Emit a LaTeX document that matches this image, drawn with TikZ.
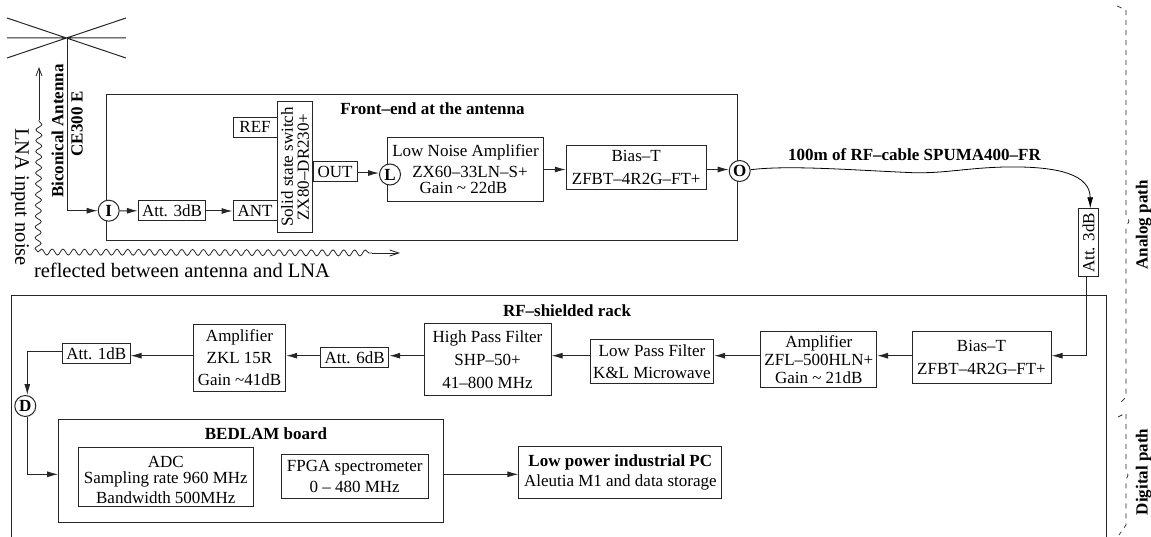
\documentclass[tikz,border=0pt]{standalone}
\usepackage{fontspec}
\setmainfont{Liberation Serif}
\usetikzlibrary{arrows.meta,decorations.pathmorphing,decorations.pathreplacing}
\tikzset{
 x=1pt,y=-1pt,
 lin/.style={draw=black!85,line width=1pt},
 flow/.style={lin,-{Latex[length=11pt,width=6pt]}},
 box/.style={lin,fill=white,inner sep=0pt,align=center,font=\fontsize{17}{16}\selectfont},
 tap/.style={lin,fill=white,circle,inner sep=0pt,minimum size=21pt,font=\fontsize{17}{16}\selectfont\bfseries},
 lab/.style={inner sep=0pt,align=center,font=\fontsize{17}{16}\selectfont\bfseries},
 big/.style={inner sep=0pt,font=\fontsize{20.5}{19}\selectfont},
 wav/.style={lin,line width=0.8pt,decorate,decoration={snake,amplitude=3pt,segment length=10.8pt}},
 brc/.style={lin,line width=0.7pt,dash pattern=on 5pt off 5pt},
}
\newcommand{\bx}[6]{\node[box,minimum width=#4pt,minimum height=#5pt] (#1) at (#2,#3) {#6};}
\begin{document}
\begin{tikzpicture}
\useasboundingbox (0,0) rectangle (1151,537);
% antenna
\coordinate (hub) at (67,38);
\coordinate (aNW) at (7,18); \coordinate (aSE) at (126,58);
\coordinate (aSW) at (7,58); \coordinate (aNE) at (126,18);
\coordinate (aW) at (7,38); \coordinate (aE) at (126,38);
\draw[lin] (aNW)--(aSE) (aSW)--(aNE) (aW)--(aE);
% containers
\node[lin,minimum width=631pt,minimum height=146.5pt,inner sep=0pt] (fe) at (422,167.3) {};
\draw[lin] (11,537) |- (1106.5,295.7) -- (1106.5,537);
\node[lab] (fet) at (432.5,109) {Front–end at the antenna};
% front-end blocks
\node[tap] (I) at (108.7,210.7) {I};
\bx{att3}{172}{211}{67.4}{20}{Att. 3dB}
\bx{ant}{255}{211}{44}{20}{ANT}
\bx{ref}{255}{127.3}{44}{20}{REF}
\node[box,rotate=90,minimum width=130.6pt,minimum height=35.4pt,font=\fontsize{17}{16}\selectfont] (sw) at (295,167) {Solid state switch\\ZX80–DR230+};
\bx{out}{335}{171.5}{44}{20}{OUT}
\node[box,minimum width=155.6pt,minimum height=63.7pt] (lna) at (465.5,169.2) {Low Noise Amplifier\\[5pt]\hspace*{9pt}ZX60–33LN–S+\\\hspace*{-4pt}Gain \textasciitilde{} 22dB};
\node[tap] (L) at (390,174.5) {L};
\node[box,minimum width=139.7pt,minimum height=44pt,font=\fontsize{17}{23}\selectfont] (bt1) at (636.2,167.3) {Bias–T\\ZFBT–4R2G–FT+};
\node[tap] (O) at (739.7,171) {O};
% front-end connectors
\draw[flow] (hub) |- (I);
\draw[flow] (I) -- (att3);
\draw[flow] (att3) -- (ant);
\draw[flow] (out.east |- 0,173) -- (L.west |- 0,173);
\draw[flow] (lna.east |- 0,169.5) -- (bt1.west |- 0,169.5);
\draw[flow] (bt1.east |- 0,169.5) -- (O.west |- 0,169.5);
\node[lab,rotate=90] (bic1) at (57.5,131) {Biconical Antenna};
\node[lab,rotate=90] (bic2) at (77,124) {CE300 E};
% cable
\node[box,rotate=90,minimum width=68pt,minimum height=20pt] (att4) at (1088.7,242.8) {Att. 3dB};
\draw[-{Latex[length=11pt,width=6pt]},draw=black,line width=0.8pt] (O) .. controls (790,165) and (850,170) .. (913,172.7) .. controls (945,173.5) and (965,168) .. (1005,167) .. controls (1060,166) and (1090,175) .. ([xshift=1.6pt]att4.east);
\node[lab] (cablab) at (914.5,155) {100m of RF–cable SPUMA400–FR};
% wavy noise
\coordinate (n0) at (38,252);
\coordinate (n1) at (39,120);
\coordinate (n2) at (39,67);
\coordinate (n3) at (372,253);
\coordinate (n4) at (400,253);
\draw[wav] (n0) -- (n1);
\draw[lin,line width=0.8pt,-{Straight Barb[length=8pt,width=6pt]}] (n1) -- (n2);
\draw[wav] (n0) -- (n3);
\draw[lin,line width=0.8pt,-{Straight Barb[length=9pt,width=6pt]}] (n3) -- (n4);
\node[big,rotate=-90] (t1) at (20,197) {LNA input noise};
\node[big] (t2) at (182,270) {reflected between antenna and LNA};
% rack
\node[lab] (rt) at (567,310.7) {RF–shielded rack};
\node[box,minimum width=139pt,minimum height=52pt,font=\fontsize{17}{23}\selectfont] (bt2) at (981.5,357.7) {Bias–T\\ZFBT–4R2G–FT+};
\node[box,minimum width=115.7pt,minimum height=56pt,font=\fontsize{17}{18}\selectfont] (amp2) at (818.8,359.7) {Amplifier\\ZFL–500HLN+\\Gain \textasciitilde{} 21dB};
\node[box,minimum width=123.4pt,minimum height=44pt,font=\fontsize{17}{22}\selectfont] (lp) at (652,361.7) {Low Pass Filter\\K\&L Microwave};
\node[box,minimum width=127pt,minimum height=71.6pt,font=\fontsize{17}{23}\selectfont] (hp) at (487.5,359.5) {High Pass Filter\\SHP–50+\\41–800 MHz};
\bx{att6}{354.7}{357.7}{68}{20}{Att. 6dB}
\node[box,minimum width=92.4pt,minimum height=67pt,font=\fontsize{17}{22}\selectfont] (amp1) at (239.5,357.5) {Amplifier\\ZKL 15R\\Gain \textasciitilde{}41dB};
\bx{att1}{96.3}{353.7}{67.4}{20}{Att. 1dB}
\node[tap] (D) at (25.3,406) {D};
\node[box,minimum width=385.3pt,minimum height=103pt] (bed) at (251.3,470.8) {};
\node[lab] (bedt) at (266,434) {BEDLAM board};
\node[box,minimum width=175pt,minimum height=59.3pt,font=\fontsize{17}{16}\selectfont] (adc) at (165.8,476.7) {\rule{0pt}{17pt}ADC\\[0pt]Sampling rate 960 MHz\\[4pt]Bandwidth 500MHz};
\node[box,minimum width=147.3pt,minimum height=44.4pt,font=\fontsize{17}{21}\selectfont] (fpga) at (354.7,476.5) {FPGA spectrometer\\0 – 480 MHz};
\node[box,minimum width=202.7pt,minimum height=52pt,font=\fontsize{17}{20}\selectfont] (pc) at (620.3,472.7) {\textbf{Low power industrial PC}\\Aleutia M1 and data storage};
% rack connectors
\coordinate (c1) at (1086.3,355.7);
\draw[lin] (att4.west -| c1) -- (c1);
\draw[flow] (c1) -- (bt2.east |- c1);
\draw[flow] (bt2.west |- c1) -- (amp2.east |- c1);
\draw[flow] (amp2.west |- c1) -- (lp.east |- c1);
\draw[flow] (lp.west |- c1) -- (hp.east |- c1);
\draw[flow] (hp.west |- c1) -- (att6.east |- c1);
\draw[flow] (att6.west |- c1) -- (amp1.east |- c1);
\draw[flow] (amp1.west |- c1) -- (att1.east |- c1);
\coordinate (c2) at (27.3,351.7);
\draw[flow] (att1.west |- c2) -- (c2) -- (c2 |- D.north);
\coordinate (c3) at (27.3,474.3);
\draw[lin] (c2 |- D.south) -- (c3);
\draw[flow] (c3) -- (bed.west |- c3);
\draw[flow] (bed.east |- c3) -- (pc.west |- c3);
% braces
\draw[brc] (1117,6) -- (1126,10) -- (1126,216) -- (1129,221) -- (1126,228) -- (1126,397) -- (1118,405);
\draw[brc] (1118,417) -- (1126,413) -- (1126,470) -- (1128,475) -- (1126,480) -- (1126,525) -- (1119,535);
\node[lab,rotate=90] (ap) at (1143.5,225) {Analog path};
\node[lab,rotate=90] (dp) at (1143.5,472) {Digital path};
\end{tikzpicture}
\end{document}
